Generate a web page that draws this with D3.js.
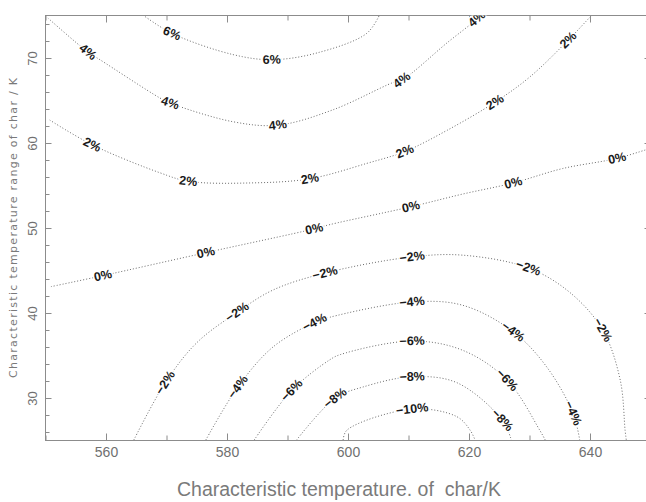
<!DOCTYPE html>
<html><head><meta charset="utf-8">
<script src="https://cdn.jsdelivr.net/npm/d3@7"></script>
<style>body{margin:0;background:#fff}svg{display:block}</style>
</head><body>
<svg id="c" width="646" height="502"></svg>
<script>
// ---- tick values ----
const xMajorTicks = [560, 580, 600, 620, 640];
const xMinorTicks = [550, 570, 590, 610, 630, 650];
const yMajorTicks = [30, 40, 50, 60, 70];
const yMinorTicks = [26, 28, 32, 34, 36, 38, 42, 44, 46, 48, 52, 54, 56, 58, 62, 64, 66, 68, 72, 74];
const xTitle = "Characteristic temperature. of  char/K";
const yTitle = "Characteristic temperature range of char / K";

// ---- contour lines (x = temperature K, y = range K) ----
const c6 = [[566.1,75.06],[570.9,72.9],[581.0,70.4],[587.4,69.8],[594.9,70.6],[603.1,72.9],[605.2,75.06]];
const c4 = [[550.4,74.7],[557.0,70.7],[559.0,69.8],[568.9,65.3],[570.6,64.7],[581.0,62.5],[588.4,62.1],[597.5,63.9],[607.4,67.1],[608.9,67.4],[616.4,71.8],[621.3,74.6],[621.8,75.06]];
const c2 = [[550.7,62.7],[557.7,59.8],[568.9,56.5],[573.6,55.5],[583.8,55.3],[593.7,55.8],[603.1,57.6],[609.4,59.0],[616.4,61.5],[624.3,64.8],[630.1,67.8],[636.4,72.1],[640.0,74.8],[640.4,75.06]];
const c0 = [[550.9,43.1],[559.5,44.4],[576.5,47.1],[594.4,49.9],[597.0,50.4],[610.4,52.5],[619.0,54.0],[627.3,55.3],[635.5,57.0],[644.5,58.2],[650.5,59.5]];
const cm2 = [[564.6,25.06],[569.8,31.8],[575.0,36.5],[581.7,40.1],[587.6,42.7],[596.2,44.7],[610.6,46.6],[619.0,46.8],[629.8,45.3],[636.7,42.4],[642.1,38.0],[645.0,32.1],[645.8,26.2],[646.0,25.06]];
const cm4 = [[576.5,25.06],[581.8,31.3],[587.6,36.0],[594.5,38.9],[597.0,39.5],[610.6,41.3],[619.0,40.9],[627.3,37.8],[632.9,33.6],[637.2,28.2],[638.3,25.06]];
const cm6 = [[584.5,25.06],[590.7,30.9],[597.0,34.5],[598.7,35.1],[610.6,36.7],[619.0,35.6],[626.3,32.1],[631.7,26.2],[632.6,25.06]];
const cm8 = [[591.5,25.06],[597.9,30.0],[602.5,31.3],[610.6,32.5],[618.0,31.8],[625.5,27.4],[627.0,25.06]];
const cm10 = [[599.2,25.06],[599.8,26.2],[610.6,28.7],[618.0,27.8],[620.2,26.2],[621.0,25.06]];
const contourLines = [c6, c4, c2, c0, cm2, cm4, cm6, cm8, cm10];

// ---- contour labels: [line index, text, x, y] ----
const labels = [
  [0,"6%",570.9,72.9],[0,"6%",587.4,69.8],
  [1,"4%",557.0,70.7],[1,"4%",570.6,64.7],[1,"4%",588.4,62.1],[1,"4%",608.9,67.4],[1,"4%",621.3,74.6],
  [2,"2%",557.7,59.8],[2,"2%",573.6,55.5],[2,"2%",593.7,55.8],[2,"2%",609.4,59.0],[2,"2%",624.3,64.8],[2,"2%",636.4,72.1],
  [3,"0%",559.5,44.4],[3,"0%",576.5,47.1],[3,"0%",594.4,49.9],[3,"0%",610.4,52.5],[3,"0%",627.3,55.3],[3,"0%",644.5,58.2],
  [4,"−2%",569.8,31.8],[4,"−2%",581.7,40.1],[4,"−2%",596.2,44.7],[4,"−2%",610.6,46.6],[4,"−2%",629.8,45.3],[4,"−2%",642.1,38.0],
  [5,"−4%",581.8,31.3],[5,"−4%",594.5,38.9],[5,"−4%",610.6,41.3],[5,"−4%",627.3,37.8],[5,"−4%",637.2,28.2],
  [6,"−6%",590.7,30.9],[6,"−6%",610.6,36.7],[6,"−6%",626.3,32.1],
  [7,"−8%",597.9,30.0],[7,"−8%",610.6,32.5],[7,"−8%",625.5,27.4],
  [8,"−10%",610.6,28.7]
];

const svg = d3.select("#c");
const x = d3.scaleLinear().domain([550, 650]).range([45.5, 650.5]);
const y = d3.scaleLinear().domain([25, 75]).range([440.5, 15.5]);
const axisColor = "#8c8c8c";
const textColor = "#707070";

svg.append("defs").append("clipPath").attr("id","clip")
  .append("rect").attr("x", x(550)).attr("y", y(75)).attr("width", x(650)-x(550)).attr("height", y(25)-y(75));

// contour lines
const lineGen = d3.line().x(d => x(d[0])).y(d => y(d[1])).curve(d3.curveCatmullRom.alpha(0.5));
svg.append("g").attr("clip-path","url(#clip)")
  .selectAll("path").data(contourLines).join("path")
  .attr("d", lineGen)
  .attr("fill","none").attr("stroke","#5a5a5a").attr("stroke-width",0.9)
  .attr("stroke-dasharray","1 2");

// frame
svg.append("rect").attr("x", x(550)).attr("y", y(75)).attr("width", x(650)-x(550)).attr("height", y(25)-y(75))
  .attr("fill","none").attr("stroke",axisColor).attr("stroke-width",1);

function styleAxis(g){
  g.select(".domain").remove();
  g.selectAll(".tick line").attr("stroke", axisColor);
  g.selectAll(".tick text").attr("fill", textColor).attr("font-family","'Liberation Sans', Arial, sans-serif");
}
// bottom
svg.append("g").attr("transform",`translate(0,${y(25)})`)
  .call(d3.axisBottom(x).tickValues(xMajorTicks).tickSize(-7).tickPadding(7).tickFormat(d3.format("d")))
  .call(styleAxis).call(g => g.selectAll(".tick text").attr("font-size",14));
svg.append("g").attr("transform",`translate(0,${y(25)})`)
  .call(d3.axisBottom(x).tickValues(xMinorTicks).tickSize(-5).tickFormat(""))
  .call(styleAxis);
// top
svg.append("g").attr("transform",`translate(0,${y(75)})`)
  .call(d3.axisTop(x).tickValues(xMajorTicks).tickSize(-7).tickFormat(""))
  .call(styleAxis);
svg.append("g").attr("transform",`translate(0,${y(75)})`)
  .call(d3.axisTop(x).tickValues(xMinorTicks).tickSize(-5).tickFormat(""))
  .call(styleAxis);
// left
svg.append("g").attr("transform",`translate(${x(550)},0)`)
  .call(d3.axisLeft(y).tickValues(yMajorTicks).tickSize(-6).tickFormat(d3.format("d")))
  .call(styleAxis)
  .call(g => g.selectAll(".tick text")
    .attr("transform","rotate(-90)").attr("x",0).attr("y",-13).attr("dy",null)
    .attr("text-anchor","middle").attr("dominant-baseline","central").attr("font-size",13));
svg.append("g").attr("transform",`translate(${x(550)},0)`)
  .call(d3.axisLeft(y).tickValues(yMinorTicks).tickSize(-4).tickFormat(""))
  .call(styleAxis);
// right
svg.append("g").attr("transform",`translate(${x(650)},0)`)
  .call(d3.axisRight(y).tickValues(yMajorTicks).tickSize(-6).tickFormat(""))
  .call(styleAxis);
svg.append("g").attr("transform",`translate(${x(650)},0)`)
  .call(d3.axisRight(y).tickValues(yMinorTicks).tickSize(-4).tickFormat(""))
  .call(styleAxis);

// contour labels
function angleAt(line, lx, ly){
  const px = line.map(p => [x(p[0]), y(p[1])]);
  const tx = x(lx), ty = y(ly);
  let bi = 0, bd = Infinity;
  px.forEach((p,i) => { const d = (p[0]-tx)**2 + (p[1]-ty)**2; if (d < bd){bd = d; bi = i;} });
  const a = px[Math.max(0, bi-1)], b = px[Math.min(px.length-1, bi+1)];
  let ang = Math.atan2(b[1]-a[1], b[0]-a[0]) * 180 / Math.PI;
  if (ang > 90) ang -= 180;
  if (ang <= -90) ang += 180;
  return ang;
}
svg.append("g").attr("clip-path","url(#clip)")
  .selectAll("text").data(labels).join("text")
  .attr("transform", d => `translate(${x(d[2])},${y(d[3])}) rotate(${angleAt(contourLines[d[0]], d[2], d[3])})`)
  .attr("text-anchor","middle").attr("dominant-baseline","central")
  .attr("font-family","'Liberation Sans', Arial, sans-serif").attr("font-weight","bold")
  .attr("font-size",12.5).attr("fill","#1a1a1a")
  .attr("stroke","#fff").attr("stroke-width",3).attr("paint-order","stroke")
  .text(d => d[1]);

// titles
svg.append("text").attr("x", 339).attr("y", 496).attr("text-anchor","middle")
  .attr("font-family","'Liberation Sans', Arial, sans-serif").attr("font-size",19.5).attr("fill","#7a7a7a")
  .style("white-space","pre")
  .text(xTitle);
svg.append("text").attr("transform","translate(13,228) rotate(-90)")
  .attr("text-anchor","middle").attr("dominant-baseline","central")
  .attr("font-family","'DejaVu Sans', sans-serif").attr("font-size",11).attr("fill","#7a7a7a")
  .attr("textLength",300).attr("lengthAdjust","spacing")
  .text(yTitle);
</script>
</body></html>
